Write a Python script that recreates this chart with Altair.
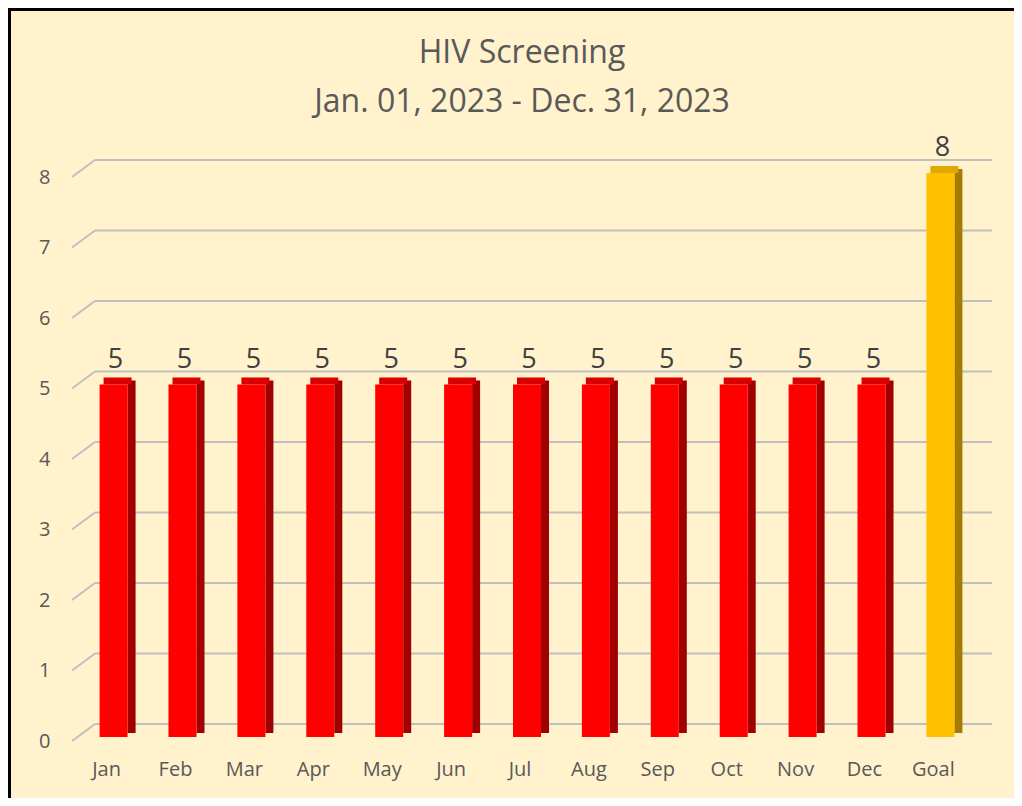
import altair as alt
import pandas as pd

categories = ["Jan", "Feb", "Mar", "Apr", "May", "Jun", "Jul", "Aug", "Sep", "Oct", "Nov", "Dec", "Goal"]
values = [5, 5, 5, 5, 5, 5, 5, 5, 5, 5, 5, 5, 8]
grid_values = [0, 1, 2, 3, 4, 5, 6, 7, 8]
title_lines = ["HIV Screening", "Jan. 01, 2023 - Dec. 31, 2023"]

df = pd.DataFrame({"cat": categories, "val": values})
gdf = pd.DataFrame({"val": grid_values})
tdf = pd.DataFrame({"line": title_lines, "row": [0, 1]})

FONT = "Open Sans"
BG = "#FFF2CC"
TXT = "#595959"

xscale = alt.Scale(domain=categories, paddingInner=0.594, paddingOuter=0.299)
yscale = alt.Scale(domain=[0, 8], nice=False)

xaxis = alt.Axis(title=None, ticks=False, domain=False, labelAngle=0, grid=False,
                 labelFont=FONT, labelFontSize=20, labelColor=TXT,
                 labelPadding=22, labelOffset=-7)
yaxis = alt.Axis(title=None, ticks=False, domain=False, grid=False,
                 values=grid_values, labelFont=FONT, labelFontSize=20,
                 labelColor=TXT, labelPadding=29, labelOffset=4)

X = alt.X("cat:N", scale=xscale, sort=categories, axis=xaxis)
Y = alt.Y("val:Q", scale=yscale, axis=yaxis)

is_goal = alt.datum.cat == "Goal"

grid_back = alt.Chart(gdf).mark_rule(color="#BFBFBF", strokeWidth=2, yOffset=-13).encode(
    y=Y, x=alt.value(16), x2=alt.value(913))
grid_slant = alt.Chart(gdf).mark_rule(color="#BFBFBF", strokeWidth=2, yOffset=4, y2Offset=-13).encode(
    y=Y, y2="val:Q", x=alt.value(-7), x2=alt.value(16))

side = alt.Chart(df).mark_bar(width=8, xOffset=18, yOffset=-4, y2Offset=-4).encode(
    x=X, y=Y, y2=alt.datum(0),
    color=alt.condition(is_goal, alt.value("#A67C00"), alt.value("#A00000")))

top = alt.Chart(df).mark_bar(width=28, xOffset=4, yOffset=-7, y2Offset=0).encode(
    x=X, y=Y, y2="val:Q",
    color=alt.condition(is_goal, alt.value("#E0A800"), alt.value("#D80000")))

front = alt.Chart(df).mark_bar(width=28).encode(
    x=X, y=Y, y2=alt.datum(0),
    color=alt.condition(is_goal, alt.value("#FFC000"), alt.value("#FF0000")))

labels = alt.Chart(df).mark_text(font=FONT, fontSize=27, color="#404040", dy=-17, dx=2,
                                 baseline="alphabetic").encode(
    x=X, y=Y, text="val:Q")

title1 = alt.Chart(tdf).transform_filter(alt.datum.row == 0).mark_text(
    font=FONT, fontSize=32, color=TXT, baseline="alphabetic", align="center").encode(
    x=alt.value(443), y=alt.value(-110), text="line:N")
title2 = alt.Chart(tdf).transform_filter(alt.datum.row == 1).mark_text(
    font=FONT, fontSize=32, color=TXT, baseline="alphabetic", align="center").encode(
    x=alt.value(443), y=alt.value(-61), text="line:N")

border_left = alt.Chart(gdf).mark_rule(color="black", strokeWidth=3).encode(
    x=alt.value(-70), y=alt.value(-165), y2=alt.value(625))
border_top = alt.Chart(gdf).mark_rule(color="black", strokeWidth=3).encode(
    x=alt.value(-71), x2=alt.value(935), y=alt.value(-164))

chart = alt.layer(grid_back, grid_slant, side, top, front, labels, title1, title2,
                  border_left, border_top).properties(
    width=896, height=564,
    padding={"left": 71, "top": 165, "right": 39, "bottom": 61},
    autosize=alt.AutoSizeParams(type="none"),
    background=BG,
).configure_view(stroke=None)

chart.save("out.html", embed_options={"renderer": "svg", "actions": False})
